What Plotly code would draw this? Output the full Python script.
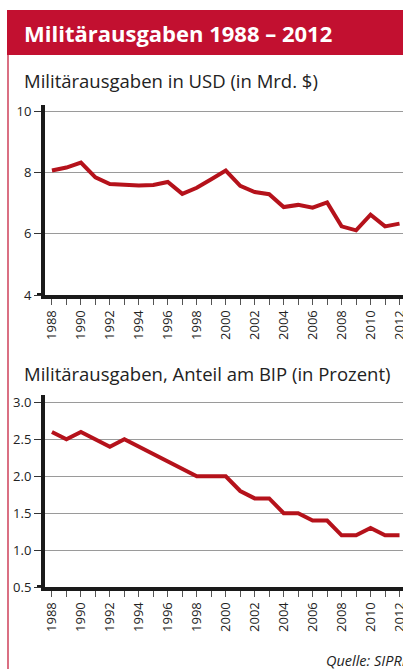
import plotly.graph_objects as go

years = list(range(1988, 2013))
usd_bn = [8.06, 8.16, 8.32, 7.84, 7.62, 7.60, 7.57, 7.59, 7.69, 7.30, 7.50,
          7.78, 8.06, 7.56, 7.36, 7.29, 6.87, 6.94, 6.85, 7.02, 6.24, 6.11,
          6.62, 6.24, 6.33]
gdp_share = [2.6, 2.5, 2.6, 2.5, 2.4, 2.5, 2.4, 2.3, 2.2, 2.1, 2.0, 2.0, 2.0,
             1.8, 1.7, 1.7, 1.5, 1.5, 1.4, 1.4, 1.2, 1.2, 1.3, 1.2, 1.2]
year_labels = [str(y) if y % 2 == 0 else "" for y in years]
usd_ticks = [4, 6, 8, 10]
usd_ticktext = ["4", "6", "8", "10"]
gdp_ticks = [0.5, 1.0, 1.5, 2.0, 2.5, 3.0]
gdp_ticktext = ["0.5", "1.0", "1.5", "2.0", "2.5", "3.0"]

title = "Militärausgaben 1988 – 2012"
sub1 = "Militärausgaben in USD (in Mrd. $)"
sub2 = "Militärausgaben, Anteil am BIP (in Prozent)"
source = "Quelle: SIPRI"

W, H = 403, 669
RED = "#C21030"
LINE = "#B5121B"
FONT = "Open Sans"

def py(p):
    return 1 - p / H

fig = go.Figure()
fig.add_trace(go.Scatter(x=years, y=usd_bn, mode="lines",
                         line=dict(color=LINE, width=4), xaxis="x", yaxis="y",
                         showlegend=False, hoverinfo="skip"))
fig.add_trace(go.Scatter(x=years, y=gdp_share, mode="lines",
                         line=dict(color=LINE, width=4), xaxis="x2", yaxis="y2",
                         showlegend=False, hoverinfo="skip"))

xrange = [1987.52, 2012.24]
xdom = [45 / W, 1]
xcommon = dict(range=xrange, domain=xdom, tickmode="array", tickvals=years,
               ticktext=year_labels, tickangle=-90, ticks="outside", ticklen=6,
               tickwidth=1, tickcolor="#555", showline=True, linewidth=4,
               linecolor="#1a1a1a", showgrid=False, zeroline=False,
               automargin=False, ticklabeloverflow="allow",
               tickfont=dict(family=FONT, size=13, color="#222"), fixedrange=True)
ycommon = dict(ticks="outside", ticklen=7, tickwidth=1.2, tickcolor="#333",
               showline=True, linewidth=4, linecolor="#1a1a1a", showgrid=True,
               gridcolor="#9a9a9a", gridwidth=1, zeroline=False,
               automargin=False,
               tickfont=dict(family=FONT, size=13, color="#222"), fixedrange=True)

fig.update_layout(
    width=W, height=H, margin=dict(l=0, r=0, t=0, b=0, autoexpand=False),
    paper_bgcolor="white", plot_bgcolor="white",
    xaxis=dict(anchor="y", **xcommon),
    yaxis=dict(anchor="x", domain=[py(295), py(105)], range=[4, 10.2],
               tickvals=usd_ticks, ticktext=usd_ticktext, **ycommon),
    xaxis2=dict(anchor="y2", **xcommon),
    yaxis2=dict(anchor="x2", domain=[py(587), py(395)], range=[0.5, 3.1],
                tickvals=gdp_ticks, ticktext=gdp_ticktext, **ycommon),
    shapes=[
        dict(type="rect", xref="paper", yref="paper", x0=7 / W, x1=1,
             y0=py(55), y1=py(10), fillcolor=RED, line=dict(width=0), layer="below"),
        dict(type="line", xref="paper", yref="paper", x0=8 / W, x1=8 / W,
             y0=0, y1=py(55), line=dict(color=RED, width=1.2)),
        dict(type="line", xref="paper", yref="y", x0=37 / W, x1=45 / W,
             y0=4, y1=4, line=dict(color="#1a1a1a", width=4)),
        dict(type="line", xref="paper", yref="y2", x0=37 / W, x1=45 / W,
             y0=0.5, y1=0.5, line=dict(color="#1a1a1a", width=4)),
    ],
    annotations=[
        dict(text="<b>" + title + "</b>", xref="paper", yref="paper",
             x=22 / W, y=py(33), xanchor="left", yanchor="middle", showarrow=False,
             font=dict(family=FONT, size=22, color="white")),
        dict(text=sub1, xref="paper", yref="paper", x=22 / W, y=py(80),
             xanchor="left", yanchor="middle", showarrow=False,
             font=dict(family=FONT, size=18.5, color="#222")),
        dict(text=sub2, xref="paper", yref="paper", x=22 / W, y=py(373),
             xanchor="left", yanchor="middle", showarrow=False,
             font=dict(family=FONT, size=18.5, color="#222")),
        dict(text="<i>" + source + "</i>", xref="paper", yref="paper",
             x=324 / W, y=py(660), xanchor="left", yanchor="middle",
             showarrow=False, font=dict(family=FONT, size=14.5, color="#222")),
    ],
)

fig.write_html("out.html", config={"displayModeBar": False},
               post_script="document.body.style.margin='0';document.body.style.overflow='hidden';")
